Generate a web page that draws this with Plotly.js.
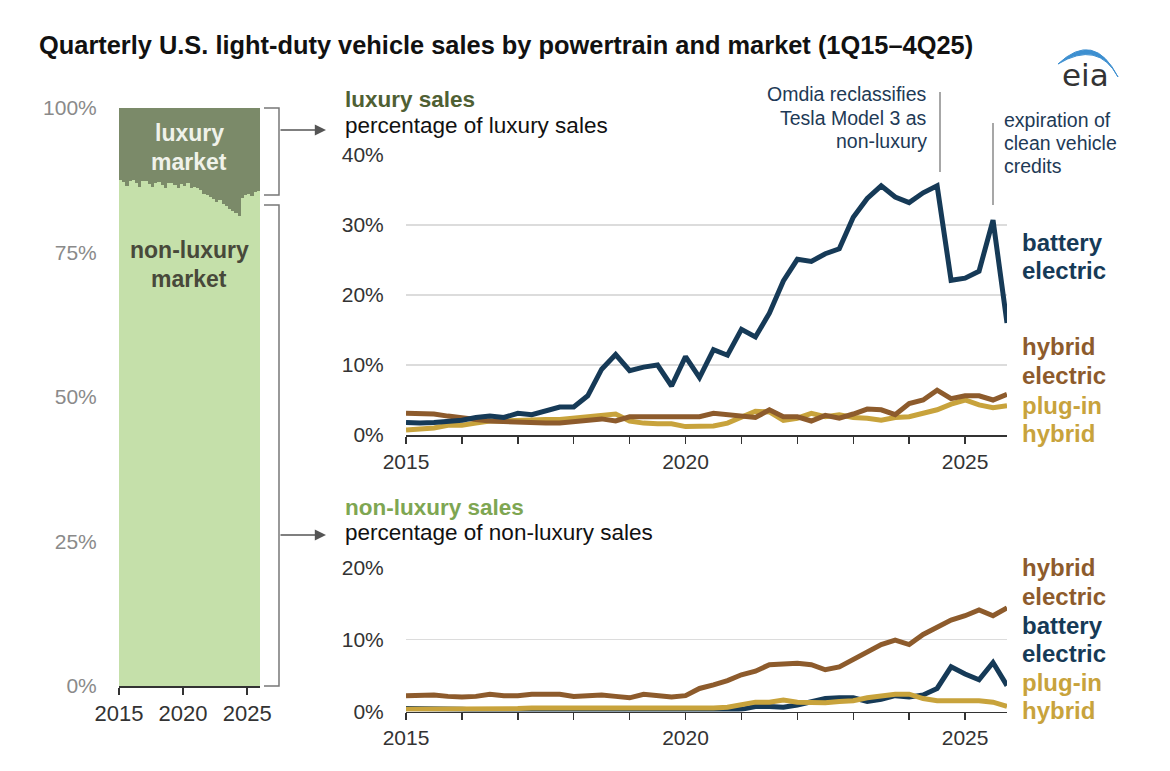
<!DOCTYPE html>
<html>
<head>
<meta charset="utf-8">
<script src="https://cdn.plot.ly/plotly-3.0.1.min.js"></script>
<style>html,body{margin:0;padding:0;background:#fff;}#chart{width:1170px;height:771px;}</style>
</head>
<body>
<div id="chart"></div>
<script>
// ---------- data ----------
const quarters = [
 '1Q15','2Q15','3Q15','4Q15','1Q16','2Q16','3Q16','4Q16','1Q17','2Q17','3Q17','4Q17',
 '1Q18','2Q18','3Q18','4Q18','1Q19','2Q19','3Q19','4Q19','1Q20','2Q20','3Q20','4Q20',
 '1Q21','2Q21','3Q21','4Q21','1Q22','2Q22','3Q22','4Q22','1Q23','2Q23','3Q23','4Q23',
 '1Q24','2Q24','3Q24','4Q24','1Q25','2Q25','3Q25','4Q25'];

// share of total sales that is luxury (%)
const luxuryShare = [
 12.4,12.8,13.5,12.6, 12.5,13.0,13.6,12.7, 12.6,13.2,13.7,12.9,
 12.8,13.4,13.8,12.9, 13.0,13.3,13.8,13.2, 13.5,12.9,13.9,13.6,
 13.8,14.2,14.8,15.0, 15.4,15.8,16.2,16.0, 16.6,17.0,17.5,17.8,
 18.2,18.6,15.5,15.0, 14.8,15.2,14.6,14.4];

// luxury sales, % of luxury sales
const luxBEV = [
 1.8,1.7,1.8,1.9, 2.1,2.5,2.7,2.5, 3.1,2.9,3.4,4.0,
 4.0,5.6,9.4,11.5, 9.2,9.7,10.0,7.0, 11.2,8.2,12.2,11.4,
 15.1,14.0,17.4,22.0, 25.1,24.8,25.9,26.6, 31.1,33.8,35.6,34.0,
 33.2,34.6,35.6,22.1, 22.4,23.4,30.7,16.0];
const luxHEV = [
 3.1,3.0,3.0,2.7, 2.4,2.2,2.0,1.9, 1.8,1.7,1.7,1.7,
 1.9,2.0,2.3,2.0, 2.6,2.6,2.6,2.6, 2.6,2.6,3.1,2.9,
 2.8,2.5,3.6,2.6, 2.6,2.0,2.8,2.4, 3.0,3.7,3.6,2.9,
 4.5,5.0,6.4,5.2, 5.6,5.6,5.0,5.8];
const luxPHEV = [
 0.7,0.9,1.0,1.4, 1.4,1.7,2.0,2.0, 2.1,2.1,2.2,2.2,
 2.4,2.7,2.8,3.0, 2.0,1.7,1.6,1.6, 1.2,1.2,1.3,1.7,
 2.6,3.4,3.3,2.1, 2.4,3.1,2.6,2.9, 2.5,2.4,2.1,2.5,
 2.6,3.1,3.6,4.4, 5.0,4.3,3.9,4.2];

// non-luxury sales, % of non-luxury sales
const nonluxHEV = [
 2.2,2.3,2.3,2.1, 2.0,2.1,2.4,2.2, 2.2,2.4,2.4,2.4,
 2.1,2.2,2.3,2.1, 1.9,2.4,2.2,2.0, 2.2,3.2,3.7,4.3,
 5.1,5.6,6.5,6.6, 6.7,6.5,5.8,6.2, 7.2,8.3,9.3,9.9,
 9.3,10.7,11.7,12.7, 13.3,14.1,13.3,14.4];
const nonluxBEV = [
 0.4,0.4,0.3,0.3, 0.3,0.2,0.2,0.2, 0.2,0.2,0.2,0.1,
 0.1,0.1,0.1,0.1, 0.1,0.1,0.1,0.1, 0.1,0.1,0.1,0.2,
 0.3,0.7,0.7,0.6, 0.9,1.4,1.8,1.9, 1.9,1.4,1.7,2.2,
 2.0,2.3,3.2,6.2, 5.2,4.4,6.8,3.6];
const nonluxPHEV = [
 0.3,0.3,0.3,0.3, 0.3,0.3,0.4,0.4, 0.4,0.5,0.5,0.5,
 0.5,0.5,0.5,0.5, 0.5,0.5,0.5,0.5, 0.4,0.4,0.5,0.6,
 0.9,1.3,1.3,1.6, 1.3,1.2,1.2,1.4, 1.5,1.9,2.2,2.4,
 2.4,1.8,1.5,1.5, 1.6,1.5,1.3,0.7];

const yearTicks = [2015,2016,2017,2018,2019,2020,2021,2022,2023,2024,2025];
const yearTickText = ['2015','','','','','2020','','','','','2025'];
const marketTicks = [0,25,50,75,100];
const marketTickText = ['0%','25%','50%','75%','100%'];
const luxTicks = [0,10,20,30,40];
const luxTickText = ['0%','10%','20%','30%','40%'];
const nonluxTicks = [0,10,20];
const nonluxTickText = ['0%','10%','20%'];

// ---------- helpers ----------
const W = 1170, H = 771;
const PX = x => x / W, PY = y => 1 - y / H;
const qx = s => 2000 + Number(s.slice(2)) + (Number(s[0]) - 1) / 4;
const xq = quarters.map(qx);
const xbar = xq.map(v => v + 0.125);
const nonLuxuryShare = luxuryShare.map(v => 100 - v);

const FONT = 'Liberation Sans, Arial, Helvetica, sans-serif';
const NAVY = '#163a57', BROWN = '#8d5b2c', GOLD = '#c8a33c';
const LUX = '#7b8a69', NONLUX = '#c5e0aa';

function line(x, y, color, xa, ya) {
  return {type: 'scatter', mode: 'lines', x: x, y: y, xaxis: xa, yaxis: ya,
          line: {color: color, width: 5, shape: 'linear'}, hoverinfo: 'skip', showlegend: false};
}

const traces = [
  {type: 'bar', x: xbar, y: nonLuxuryShare, width: 0.25, xaxis: 'x', yaxis: 'y',
   marker: {color: NONLUX, line: {width: 0}}, showlegend: false, hoverinfo: 'skip'},
  {type: 'bar', x: xbar, y: luxuryShare, width: 0.25, xaxis: 'x', yaxis: 'y',
   marker: {color: LUX, line: {width: 0}}, showlegend: false, hoverinfo: 'skip'},
  line(xq, luxPHEV, GOLD, 'x2', 'y2'),
  line(xq, luxHEV, BROWN, 'x2', 'y2'),
  line(xq, luxBEV, NAVY, 'x2', 'y2'),
  line(xq, nonluxBEV, NAVY, 'x3', 'y3'),
  line(xq, nonluxHEV, BROWN, 'x3', 'y3'),
  line(xq, nonluxPHEV, GOLD, 'x3', 'y3')
];

const xTickCommon = {
  ticks: 'outside', ticklen: 7, tickwidth: 1.5, tickcolor: '#333',
  showline: true, linecolor: '#333', linewidth: 1.5, showgrid: false, zeroline: false,
  tickfont: {family: FONT, size: 21, color: '#333'}, fixedrange: true
};
const yTickCommon = {
  ticks: 'outside', ticklen: 17, tickcolor: 'rgba(0,0,0,0)',
  showline: false, zeroline: false, fixedrange: true,
  tickfont: {family: FONT, size: 21, color: '#333'}
};

function ann(text, x, y, opts) {
  return Object.assign({text: text, x: PX(x), y: PY(y), xref: 'paper', yref: 'paper',
    showarrow: false, xanchor: 'left', yanchor: 'middle', borderpad: 0,
    font: {family: FONT, size: 21, color: '#111'}}, opts || {});
}
function lines(texts, x, y0, dy, opts) {
  return texts.map((t, i) => ann(t, x, y0 + i * dy, opts));
}
function pathPx(cmds) {
  return cmds.map(c => typeof c === 'string' ? c : (PX(c[0]).toFixed(5) + ',' + PY(c[1]).toFixed(5))).join(' ');
}
function segShape(pts, color, width) {
  const cmds = [];
  pts.forEach((p, i) => { cmds.push(i === 0 ? 'M' : 'L'); cmds.push(p); });
  return {type: 'path', xref: 'paper', yref: 'paper', path: pathPx(cmds),
          line: {color: color, width: width}, fillcolor: 'rgba(0,0,0,0)'};
}

const fLabel = c => ({font: {family: FONT, size: 24, color: c}});
const fNote = {xanchor: 'right', font: {family: FONT, size: 19.5, color: '#1e3a56'}};
const fNote2 = {xanchor: 'left', font: {family: FONT, size: 19.5, color: '#1e3a56'}};

const annotations = [].concat(
  lines(['<b>luxury</b>', '<b>market</b>'], 189, 133, 29, {xanchor: 'center', font: {family: FONT, size: 23, color: '#f0f2ea'}}),
  lines(['<b>non-luxury</b>', '<b>market</b>'], 189, 250, 29, {xanchor: 'center', font: {family: FONT, size: 23, color: '#48493a'}}),
  [ann('<b>luxury sales</b>', 344, 100, {font: {family: FONT, size: 22.5, color: '#4f6033'}}),
   ann('percentage of luxury sales', 344, 126, {font: {family: FONT, size: 22.5, color: '#111'}}),
   ann('<b>non-luxury sales</b>', 344, 507, {font: {family: FONT, size: 22.5, color: '#7ea652'}}),
   ann('percentage of non-luxury sales', 344, 532, {font: {family: FONT, size: 22.5, color: '#111'}})],
  lines(['Omdia reclassifies', 'Tesla Model 3 as', 'non-luxury'], 928, 94, 23.5, fNote),
  lines(['expiration of', 'clean vehicle', 'credits'], 1003, 120, 23, fNote2),
  lines(['<b>battery</b>', '<b>electric</b>'], 1021, 242, 28, fLabel(NAVY)),
  lines(['<b>hybrid</b>', '<b>electric</b>'], 1021, 347, 28, fLabel(BROWN)),
  lines(['<b>plug-in</b>', '<b>hybrid</b>'], 1021, 405, 28, fLabel(GOLD)),
  lines(['<b>hybrid</b>', '<b>electric</b>'], 1021, 567, 29, fLabel(BROWN)),
  lines(['<b>battery</b>', '<b>electric</b>'], 1021, 625, 28.5, fLabel(NAVY)),
  lines(['<b>plug-in</b>', '<b>hybrid</b>'], 1021, 682, 28.5, fLabel(GOLD)),
  [ann('eia', 1085, 75, {xanchor: 'center', font: {family: 'DejaVu Sans, ' + FONT, size: 31, color: '#333'}}),
   {x: PX(326), y: PY(130), xref: 'paper', yref: 'paper', ax: -47, ay: 0, text: '', showarrow: true,
    arrowhead: 2, arrowsize: 1.4, arrowwidth: 1.6, arrowcolor: '#555'},
   {x: PX(326), y: PY(535), xref: 'paper', yref: 'paper', ax: -47, ay: 0, text: '', showarrow: true,
    arrowhead: 2, arrowsize: 1.4, arrowwidth: 1.6, arrowcolor: '#555'}]
);

const shapes = [
  segShape([[264,108],[279,108],[279,195],[264,195]], '#777', 1.5),
  segShape([[264,205],[279,205],[279,686],[264,686]], '#777', 1.5),
  segShape([[940,92],[940,172]], '#8a8a8a', 1.5),
  segShape([[993,123],[993,205]], '#8a8a8a', 1.5),
  {type: 'path', xref: 'paper', yref: 'paper',
   path: pathPx(['M',[1058,64],'Q',[1094,30],[1118,77],'Q',[1098,40],[1058,64],'Z']),
   fillcolor: '#3d8fd0', line: {color: '#3d8fd0', width: 1}}
];

const layout = {
  width: W, height: H,
  margin: {l: 0, r: 0, t: 0, b: 0},
  paper_bgcolor: '#fff', plot_bgcolor: 'rgba(0,0,0,0)',
  font: {family: FONT, color: '#333'},
  showlegend: false,
  barmode: 'stack', bargap: 0,
  title: {text: '<b>Quarterly U.S. light-duty vehicle sales by powertrain and market (1Q15–4Q25)</b>',
          x: PX(39), xanchor: 'left', xref: 'paper', y: PY(45), yanchor: 'middle', yref: 'paper',
          font: {family: FONT, size: 25.4, color: '#111'}},
  xaxis: Object.assign({}, xTickCommon, {domain: [PX(119), PX(260)], anchor: 'y', range: [2015, 2026],
          tickvals: [2015, 2020, 2025], tickfont: {family: FONT, size: 22, color: '#333'}}),
  yaxis: Object.assign({}, yTickCommon, {domain: [PY(686), PY(108)], anchor: 'x', range: [0, 100],
          tickvals: marketTicks, ticktext: marketTickText, showgrid: false,
          tickfont: {family: FONT, size: 21, color: '#8a8a8a'}}),
  xaxis2: Object.assign({}, xTickCommon, {domain: [PX(406), PX(1007)], anchor: 'y2', range: [2015, 2025.75],
          tickvals: yearTicks, ticktext: yearTickText}),
  yaxis2: Object.assign({}, yTickCommon, {domain: [PY(435), PY(155)], anchor: 'x2', range: [0, 40],
          tickvals: luxTicks, ticktext: luxTickText, showgrid: true, gridcolor: '#dcdcdc', gridwidth: 1.5}),
  xaxis3: Object.assign({}, xTickCommon, {domain: [PX(406), PX(1007)], anchor: 'y3', range: [2015, 2025.75],
          tickvals: yearTicks, ticktext: yearTickText}),
  yaxis3: Object.assign({}, yTickCommon, {domain: [PY(711.5), PY(567.5)], anchor: 'x3', range: [0, 20],
          tickvals: nonluxTicks, ticktext: nonluxTickText, showgrid: true, gridcolor: '#dcdcdc', gridwidth: 1.5}),
  annotations: annotations,
  shapes: shapes
};

Plotly.newPlot('chart', traces, layout, {displayModeBar: false, staticPlot: true});
</script>
</body>
</html>
